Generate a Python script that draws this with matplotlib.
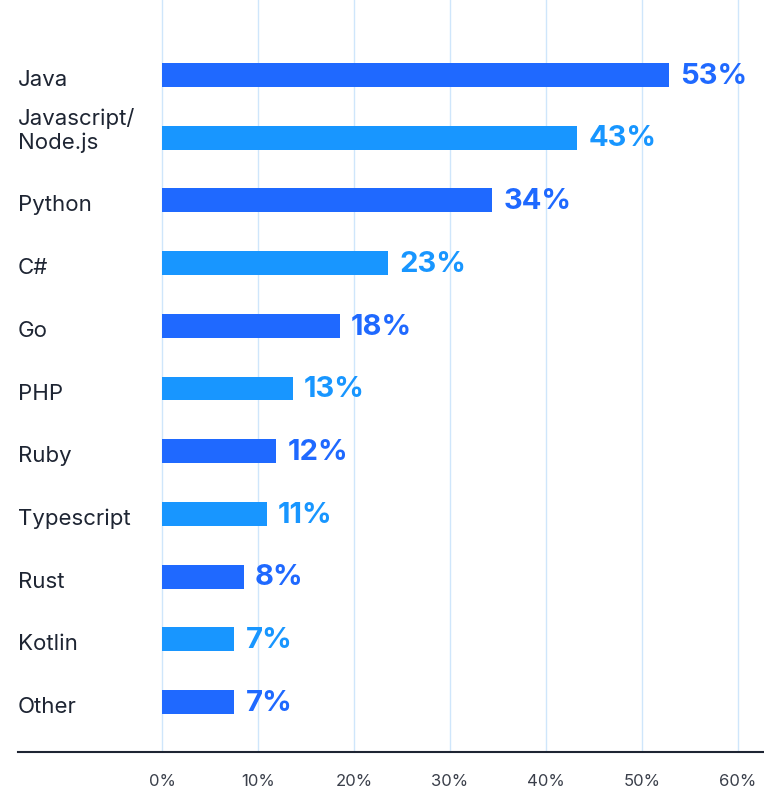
import matplotlib.pyplot as plt

languages = ['Java', 'Javascript/\nNode.js', 'Python', 'C#', 'Go', 'PHP', 'Ruby',
             'Typescript', 'Rust', 'Kotlin', 'Other']
shares = [52.8, 43.2, 34.4, 23.5, 18.5, 13.6, 11.9, 10.9, 8.5, 7.5, 7.5]
share_labels = ['53%', '43%', '34%', '23%', '18%', '13%', '12%', '11%', '8%', '7%', '7%']
tick_vals = [0, 10, 20, 30, 40, 50, 60]

dark_blue = '#1f69ff'
light_blue = '#1896ff'
colors = [dark_blue if i % 2 == 0 else light_blue for i in range(len(shares))]

plt.rcParams['font.family'] = ['Inter', 'DejaVu Sans']

fig = plt.figure(figsize=(7.64, 7.92), dpi=100)
# axes spans from px 18 to right edge, top to the black base line at px 752
ax = fig.add_axes([18 / 764, 1 - 752 / 792, 1 - 18 / 764, 752 / 792])

px_per_unit = 9.6
x_left = -(162 - 18) / px_per_unit
x_right = (764 - 162) / px_per_unit
ax.set_xlim(x_left, x_right)
step = 62.7
ax.set_ylim((752 - 75) / step, -75 / step)

ypos = range(len(shares))
ax.barh(ypos, shares, height=0.38, color=colors, zorder=3)

for v in tick_vals:
    ax.axvline(v, color='#cfe6fb', lw=1, zorder=1)

for i, (v, lab, c) in enumerate(zip(shares, share_labels, colors)):
    ax.text(v + 1.2, i + 0.02, lab, va='center', ha='left', color=c,
            fontsize=21, fontweight='bold', zorder=4)

# labels sit with their last baseline a little below the bar centre
for i, lab in enumerate(languages):
    ax.text(x_left, i + 11 / step, lab, va='baseline', ha='left', color='#1e2533',
            fontsize=16, linespacing=1.2)

for s in ['top', 'right', 'left']:
    ax.spines[s].set_visible(False)
ax.spines['bottom'].set_color('#1e2533')
ax.spines['bottom'].set_linewidth(1.5)

ax.set_xticks(tick_vals)
ax.set_xticklabels([f'{v}%' for v in tick_vals], fontsize=12, color='#3a3f4a')
ax.tick_params(axis='x', length=0, pad=16)
ax.set_yticks([])

fig.savefig('out.png', dpi=100)
